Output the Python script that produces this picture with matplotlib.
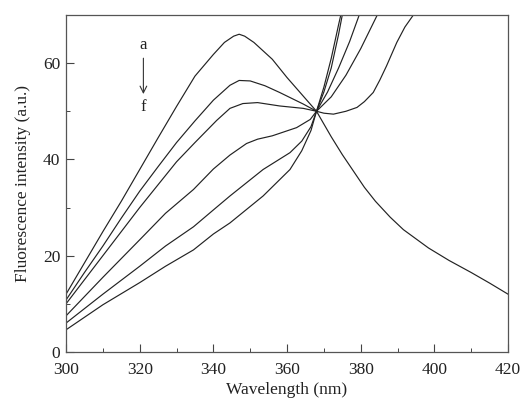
import matplotlib
matplotlib.use("Agg")
import matplotlib.pyplot as plt
from matplotlib.ticker import MultipleLocator

plt.rcParams['font.family'] = ['Liberation Serif', 'DejaVu Serif']

# Curve data (wavelength nm, intensity a.u.)
wl_a = [300, 305, 310, 315, 320, 325, 330, 335, 340, 343, 345.5, 347, 348.5, 351, 356, 360, 364, 368,
        372, 375, 378, 381, 384, 388, 391.6, 398.4, 404, 410, 415, 420]
int_a = [12, 18.5, 25, 31.3, 37.9, 44.5, 51, 57.3, 61.8, 64.3, 65.6, 66, 65.6, 64.3, 60.8, 57, 53.5, 50,
         44.7, 41, 37.6, 34.2, 31.3, 28, 25.4, 21.6, 19, 16.5, 14.3, 12]

wl_b = [300, 305, 310, 315, 320, 325, 330, 335, 340, 344.5, 347, 350, 354, 358, 364.4, 368,
        370, 372.6, 376, 379, 381, 383.4, 385.2, 387, 389.8, 392, 394.3, 396]
int_b = [10.8, 16.5, 22, 27.8, 33.4, 38.5, 43.5, 48, 52.3, 55.4, 56.4, 56.3, 55.3, 53.9, 51.5, 50,
         49.6, 49.4, 50, 50.8, 52, 53.9, 56.5, 59.4, 64.3, 67.5, 70, 72]

wl_c = [300, 310, 320, 330, 335, 340.9, 344.5, 348, 352, 358, 364.4, 368,
        372, 376, 380, 384.5, 386]
int_c = [10, 20, 30, 39.5, 43.5, 48.1, 50.6, 51.6, 51.8, 51.1, 50.6, 50,
         53, 57.5, 63, 70, 72.5]

wl_d = [300, 310, 320, 327, 334.6, 340, 344.5, 349, 352, 356, 362.6, 366.3, 368,
        371, 374, 377, 379.6, 381]
int_d = [7.5, 15.5, 23.3, 28.8, 33.75, 38, 40.9, 43.3, 44.2, 44.9, 46.6, 48.3, 50,
         54, 59, 64.5, 70, 73]

wl_e = [300, 310, 320, 327, 334.6, 340, 344.5, 353.5, 360.8, 364, 366.5, 368,
        370, 372, 374, 375, 376]
int_e = [6, 12, 17.8, 22, 26, 29.5, 32.4, 37.9, 41.4, 43.8, 46.8, 50,
         54, 59, 66, 70, 73]

wl_f = [300, 310, 320, 327, 334.6, 340, 344.5, 353.5, 360.8, 364, 366.5, 368,
        370, 372, 374, 374.6, 375.5]
int_f = [4.6, 9.8, 14.4, 17.8, 21.2, 24.5, 26.8, 32.4, 37.9, 41.8, 46, 50,
         55, 61, 68, 70, 73]

curves = [(wl_a, int_a), (wl_b, int_b), (wl_c, int_c),
          (wl_d, int_d), (wl_e, int_e), (wl_f, int_f)]

x_ticks = [300, 320, 340, 360, 380, 400, 420]
y_ticks = [0, 20, 40, 60]

fig = plt.figure(figsize=(5.2, 4.05), dpi=100)
ax = fig.add_axes([0.127, 0.131, 0.85, 0.832])

for wl, it in curves:
    ax.plot(wl, it, color='#222222', lw=0.85, solid_joinstyle='round')

ax.set_xlim(300, 420)
ax.set_ylim(0, 70)
ax.set_xticks(x_ticks)
ax.set_yticks(y_ticks)
ax.xaxis.set_minor_locator(MultipleLocator(10))
ax.yaxis.set_minor_locator(MultipleLocator(10))
ax.tick_params(which='major', direction='in', length=6, width=0.8, colors='#444444',
               labelsize=12.5, labelcolor='#222222', pad=4, top=False, right=False)
ax.tick_params(which='minor', direction='in', length=3, width=0.7, colors='#444444',
               top=False, right=False)
ax.tick_params(axis='x', which='major', pad=7)
for s in ax.spines.values():
    s.set_color('#555555')
    s.set_linewidth(0.9)

ax.set_xlabel('Wavelength (nm)', fontsize=12.5, color='#222222', labelpad=3)
ax.set_ylabel('Fluorescence intensity (a.u.)', fontsize=12.5, color='#222222', labelpad=9)

ax.text(321, 63.8, 'a', ha='center', va='center', fontsize=12, color='#222222')
ax.text(321, 50.8, 'f', ha='center', va='center', fontsize=12, color='#222222')
ax.annotate('', xy=(321, 53.0), xytext=(321, 61.6),
            arrowprops=dict(arrowstyle='->', color='#333333', lw=0.8,
                            mutation_scale=12))

fig.savefig('out.png', dpi=100)
